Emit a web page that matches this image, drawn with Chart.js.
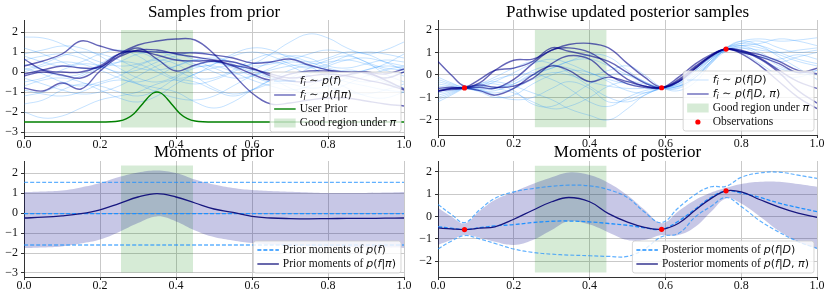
<!DOCTYPE html>
<html>
<head>
<meta charset="utf-8">
<script src="https://cdn.jsdelivr.net/npm/chart.js@4.4.0/dist/chart.umd.min.js"></script>
<style>
  body { margin: 0; background: #fff; }
  #fig { position: relative; width: 830px; height: 297px; }
  canvas { position: absolute; }
</style>
</head>
<body>
<div id="fig">
  <canvas id="priorSamples" width="415" height="150" style="left:0;top:0"></canvas>
  <canvas id="postSamples" width="415" height="150" style="left:415px;top:0"></canvas>
  <canvas id="priorMoments" width="415" height="152" style="left:0;top:145px"></canvas>
  <canvas id="postMoments" width="415" height="152" style="left:415px;top:145px"></canvas>
</div>
<script>
// ---- data ----
const xTicks = [0, 0.2, 0.4, 0.6, 0.8, 1.0];
const priorYTicks = [-3, -2, -1, 0, 1, 2];
const postYTicks = [-2, -1, 0, 1, 2];

const gridX = [0, 0.05, 0.1, 0.15, 0.2, 0.25, 0.3, 0.35, 0.4, 0.45, 0.5, 0.55, 0.6, 0.65, 0.7, 0.75, 0.8, 0.85, 0.9, 0.95, 1.0];
const postX = [0, 0.035, 0.07, 0.11, 0.15, 0.2, 0.25, 0.3, 0.345, 0.4, 0.45, 0.5, 0.545, 0.59, 0.635, 0.68, 0.72, 0.76, 0.8, 0.85, 0.9, 0.95, 1.0];

const goodRegionX = [0.255, 0.445];
const priorSamplesRegionY = [-2.77, 2.1];
const postSamplesRegionY = [-2.33, 2.0];
const priorMomentsRegionY = [-2.97, 2.38];
const postMomentsRegionY = [-2.5, 2.27];

// samples from the prior p(f)
const priorLight = [
  [1.75, 1.7, 1.4, 0.9, 0.5, 0.3, 0.4, 0.7, 0.9, 0.6, 0.2, -0.1, 0.1, 0.5, 0.8, 0.7, 0.3, 0.2, 0.4, 0.6, 0.5],
  [-2.0, -2.3, -2.2, -1.8, -1.4, -1.2, -1.0, -0.6, -0.4, -0.5, -0.9, -1.2, -0.9, -0.4, 0.1, 0.3, 0.1, -0.3, -0.5, -0.3, 0.0],
  [0.9, 1.1, 1.3, 1.2, 0.8, 0.2, -0.3, -0.5, -0.2, 0.3, 0.5, 0.3, 0.4, 0.9, 1.5, 1.9, 1.7, 1.2, 0.9, 1.1, 1.5],
  [0.2, -0.1, -0.5, -0.7, -0.5, -0.2, 0.3, 0.6, 0.4, -0.2, -0.8, -1.1, -0.9, -0.6, -0.6, -0.8, -0.7, -0.3, 0.1, 0.3, 0.2],
  [-0.5, -0.3, 0.1, 0.4, 0.3, -0.1, -0.6, -1.0, -1.3, -1.4, -1.2, -0.7, -0.2, 0.1, 0.3, 0.4, 0.5, 0.6, 0.4, 0.1, -0.2],
  [0.6, 0.8, 0.9, 0.7, 0.3, 0.0, 0.1, 0.5, 0.8, 1.0, 0.8, 0.4, 0.0, -0.3, -0.4, -0.1, 0.3, 0.6, 0.7, 0.5, 0.3],
  [-1.2, -1.0, -0.6, -0.2, 0.2, 0.5, 0.4, 0.0, -0.4, -0.6, -0.4, 0.0, 0.4, 0.5, 0.3, -0.2, -0.7, -1.0, -1.1, -0.9, -0.6],
  [0.0, 0.3, 0.5, 0.4, 0.1, -0.3, -0.6, -0.8, -1.0, -1.5, -1.8, -1.5, -0.9, -0.4, -0.1, 0.0, -0.2, -0.5, -0.7, -0.9, -1.0],
  [1.2, 0.9, 0.5, 0.2, 0.2, 0.5, 0.9, 1.0, 0.7, 0.3, 0.4, 0.8, 1.0, 0.8, 0.4, 0.2, 0.4, 0.8, 1.0, 0.9, 0.7],
  [-0.9, -1.1, -1.2, -1.0, -0.6, -0.4, -0.5, -0.2, 0.3, 0.6, 0.5, 0.2, -0.2, -0.5, -0.3, 0.2, 0.6, 0.8, 0.5, -0.1, -0.5],
  [0.4, 0.1, -0.2, -0.1, 0.4, 0.9, 1.0, 0.6, 0.1, -0.3, -0.3, 0.1, 0.6, 0.9, 0.8, 0.5, 0.2, 0.0, 0.1, 0.4, 0.9],
  [-1.6, -1.4, -0.9, -0.6, -0.7, -1.0, -1.2, -0.9, -0.3, 0.2, 0.3, 0.0, -0.4, -0.7, -0.9, -0.7, -0.2, 0.1, -0.1, -0.5, -0.8],
  [0.8, 0.5, 0.3, 0.5, 0.9, 1.1, 0.8, 0.2, -0.3, -0.1, 0.4, 0.9, 1.2, 1.1, 0.7, 0.5, 0.7, 1.0, 0.9, 0.5, 0.1],
  [-0.3, -0.6, -0.9, -1.1, -1.0, -0.7, -0.2, 0.3, 0.6, 0.4, 0.0, -0.3, -0.2, 0.2, 0.5, 0.3, -0.3, -0.8, -1.2, -1.3, -1.0],
  [0.1, 0.4, 0.8, 1.0, 0.9, 0.6, 0.2, 0.1, 0.3, 0.6, 0.7, 0.5, 0.3, 0.4, 0.6, 0.9, 1.1, 0.9, 0.5, 0.2, 0.1],
  [-0.7, -0.4, -0.3, -0.5, -0.9, -1.3, -1.5, -1.2, -0.6, -0.1, 0.2, 0.3, 0.1, -0.3, -0.8, -1.1, -1.0, -0.6, -0.2, 0.1, 0.3]
];

// samples from p(f|pi)
const priorDark = [
  [0.3, 0.55, 0.9, 1.55, 1.3, 1.05, 1.05, 1.0, 0.95, 0.95, 0.85, 0.7, 0.45, 0.5, 0.65, 0.35, 0.1, 0.0, 0.0, -0.1, 0.15],
  [-0.1, 0.1, 0.3, 0.2, 0.25, 0.9, 1.35, 1.55, 1.65, 1.6, 0.9, -0.1, -1.05, -1.6, -1.55, -1.4, -1.3, -1.3, -1.45, -1.6, -1.7],
  [-0.2, 0.0, -0.15, -0.3, 0.2, 0.8, 1.2, 0.65, 0.05, 0.35, 0.55, 0.35, 0.15, -0.1, -0.3, -0.2, -0.1, -0.2, -0.4, -0.6, -0.9],
  [-0.8, -0.95, -0.55, -0.85, 0.05, 0.75, 1.1, 1.1, 0.9, 0.75, 0.6, 0.5, 0.2, -0.2, -0.45, -0.5, -0.35, -0.15, 0.0, -0.3, 0.0],
  [0.65, 0.1, 0.0, 0.0, 0.3, 0.9, 1.05, 0.85, 0.6, 0.55, 0.55, 0.3, -0.1, -0.4, -0.1, 0.05, 0.05, 0.0, -0.05, -0.4, -0.85]
];

const userPriorX = [0, 0.2, 0.25, 0.27, 0.29, 0.30, 0.31, 0.32, 0.33, 0.34, 0.35, 0.36, 0.37, 0.38, 0.39, 0.40, 0.41, 0.43, 0.45, 0.5, 1.0];
const userPriorY = [-2.5, -2.5, -2.45, -2.33, -2.07, -1.86, -1.64, -1.41, -1.2, -1.05, -1.0, -1.05, -1.2, -1.41, -1.64, -1.86, -2.07, -2.33, -2.45, -2.5, -2.5];

// posterior samples p(f|D)
const postLight = [
  [-0.3, -0.45, -0.6, -0.7, -0.8, -0.6, -0.2, 0.1, 0.0, -0.3, -0.5, -0.6, -0.6, -0.58, -0.3, 0.3, 0.8, 1.2, 1.5, 1.6, 1.5, 1.55, 1.65],
  [-1.1, -0.85, -0.6, -0.55, -0.3, 0.1, 0.5, 0.7, 0.5, 0.1, -0.2, -0.4, -0.5, -0.55, -0.4, 0.1, 0.7, 1.1, 1.3, 1.2, 0.9, 0.6, 0.4],
  [-0.2, -0.4, -0.55, -0.6, -0.6, -0.8, -1.2, -1.5, -1.4, -1.0, -0.5, -0.3, -0.4, -0.6, -0.5, -0.1, 0.5, 1.05, 1.2, 0.9, 0.4, 0.1, 0.0],
  [-0.9, -0.75, -0.6, -0.65, -0.9, -1.1, -1.0, -0.6, -0.3, -0.6, -1.2, -1.1, -0.8, -0.6, -0.4, 0.2, 0.8, 1.2, 1.3, 1.0, 0.6, 0.8, 1.0],
  [-0.4, -0.5, -0.58, -0.5, -0.2, 0.0, 0.1, 0.3, 0.6, 0.9, 0.8, 0.2, -0.3, -0.57, -0.6, -0.1, 0.6, 1.1, 1.1, 0.7, 0.3, 0.1, 0.2],
  [-1.2, -0.9, -0.6, -0.4, -0.3, -0.5, -0.8, -1.1, -1.5, -1.8, -2.0, -1.5, -0.9, -0.6, -0.45, 0.0, 0.6, 1.15, 1.4, 1.5, 1.2, 1.0, 1.1],
  [-0.5, -0.55, -0.58, -0.65, -0.6, -0.3, 0.2, 0.4, 0.3, 0.0, 0.2, 0.4, 0.0, -0.55, -0.7, -0.3, 0.5, 1.1, 1.0, 0.5, 0.0, -0.1, 0.2],
  [-0.8, -0.7, -0.58, -0.45, -0.4, -0.7, -1.3, -1.4, -1.0, -0.4, 0.0, 0.0, -0.3, -0.6, -0.55, 0.0, 0.7, 1.2, 1.4, 1.3, 1.0, 0.7, 0.5],
  [-0.6, -0.6, -0.6, -0.75, -1.0, -0.9, -0.4, 0.0, 0.2, 0.1, -0.3, -0.7, -0.8, -0.6, -0.35, 0.2, 0.75, 1.1, 1.05, 0.8, 0.7, 0.9, 0.7],
  [-0.1, -0.35, -0.55, -0.4, -0.1, 0.3, 0.6, 0.5, 0.1, -0.5, -1.0, -1.2, -0.9, -0.55, -0.3, 0.2, 0.7, 1.15, 1.3, 1.4, 1.6, 1.5, 1.3],
  [-1.0, -0.8, -0.6, -0.7, -0.7, -0.4, 0.0, -0.2, -0.6, -1.2, -1.4, -1.0, -0.7, -0.6, -0.5, -0.1, 0.55, 1.1, 1.2, 1.1, 1.0, 1.1, 1.2],
  [-0.7, -0.65, -0.58, -0.5, -0.55, -0.4, 0.0, 0.3, 0.6, 0.7, 0.4, 0.0, -0.35, -0.58, -0.5, -0.1, 0.6, 1.2, 1.5, 1.3, 0.8, 0.3, -0.2]
];

// posterior samples p(f|D, pi)
const postDark = [
  [0.6, 0.0, -0.5, -0.35, 0.2, 0.65, 0.7, 1.1, 1.35, 1.4, 1.2, 0.5, -0.1, -0.55, -0.3, 0.3, 0.85, 1.15, 1.1, 0.75, 0.2, -0.3, -0.6],
  [-0.7, -0.65, -0.58, -0.2, 0.2, 0.3, 0.6, 1.2, 1.05, 0.85, 0.6, 0.1, -0.35, -0.57, -0.2, 0.4, 0.85, 1.15, 1.0, 0.8, 0.5, 0.1, 0.3],
  [-0.7, -0.6, -0.58, -0.55, -0.6, -0.2, 0.5, 1.1, 1.2, 1.0, 0.45, -0.2, -0.5, -0.57, -0.3, 0.3, 0.8, 1.15, 1.05, 0.7, 0.1, -0.7, -1.25],
  [-0.75, -0.6, -0.58, -0.7, -0.9, -0.6, 0.0, 0.4, 0.2, -0.3, -0.1, -0.3, -0.5, -0.57, -0.25, 0.35, 0.85, 1.15, 0.95, 0.4, -0.3, -1.0, -1.5],
  [-0.6, -0.55, -0.58, -0.45, -0.55, -0.5, -0.15, 0.5, 0.85, 0.7, 0.0, -0.4, -0.55, -0.57, -0.1, 0.5, 0.9, 1.15, 1.05, 0.9, 0.6, 0.2, 0.05]
];

const obsX = [0.07, 0.59, 0.76];
const obsY = [-0.58, -0.57, 1.15];

// moments of the prior
const priorFlatMean = -0.03;
const priorFlatUpper = 1.53;
const priorFlatLower = -1.6;
const priorPiMean = [-0.25, -0.21, -0.14, -0.03, 0.16, 0.47, 0.8, 0.97, 0.8, 0.5, 0.2, 0.03, -0.17, -0.25, -0.28, -0.29, -0.28, -0.27, -0.27, -0.26, -0.25];
const priorPiUpper = [1.05, 1.08, 1.13, 1.28, 1.5, 1.8, 2.03, 2.13, 2.0, 1.67, 1.42, 1.25, 1.15, 1.1, 1.06, 1.03, 1.0, 1.0, 1.0, 1.02, 1.05];
const priorPiLower = [-1.75, -1.72, -1.67, -1.53, -1.33, -0.95, -0.5, -0.17, -0.42, -0.87, -1.2, -1.37, -1.5, -1.58, -1.63, -1.66, -1.68, -1.7, -1.72, -1.73, -1.75];

// moments of the posterior
const postDMean = [-0.46, -0.52, -0.58, -0.5, -0.42, -0.36, -0.27, -0.21, -0.2, -0.24, -0.31, -0.39, -0.5, -0.57, -0.2, 0.35, 0.85, 1.15, 1.05, 0.85, 0.6, 0.4, 0.22];
const postDUpper = [0.54, 0.1, -0.27, 0.3, 0.81, 1.1, 1.25, 1.35, 1.4, 1.37, 1.2, 0.85, 0.2, -0.27, 0.4, 1.0, 1.33, 1.35, 1.75, 1.95, 1.98, 1.85, 1.7];
const postDLower = [-1.45, -1.1, -0.85, -1.0, -1.2, -1.45, -1.6, -1.68, -1.72, -1.75, -1.78, -1.78, -1.45, -0.9, -0.75, 0.0, 0.45, 0.85, 0.45, -0.2, -0.7, -1.12, -1.42];
const postPiMean = [-0.51, -0.55, -0.58, -0.52, -0.46, -0.12, 0.28, 0.66, 0.85, 0.66, 0.13, -0.25, -0.48, -0.57, -0.3, 0.3, 0.8, 1.15, 1.1, 0.75, 0.42, 0.15, -0.04];
const postPiUpper = [0.39, 0.0, -0.31, 0.25, 0.74, 1.1, 1.45, 1.75, 1.97, 1.85, 1.5, 0.95, 0.3, -0.3, 0.25, 0.75, 1.06, 1.28, 1.45, 1.55, 1.55, 1.45, 1.33];
const postPiLower = [-1.27, -1.05, -0.83, -0.95, -1.13, -1.27, -1.05, -0.6, -0.21, -0.36, -0.71, -1.05, -1.05, -0.83, -0.83, -0.45, 0.2, 0.81, 0.58, -0.01, -0.65, -1.13, -1.45];

// ---- styles ----
const LIGHT = "rgba(30,144,255,0.33)";
const DARK = "rgba(0,0,139,0.6)";
const GREEN = "rgb(0,128,0)";
const REGION = "rgba(0,128,0,0.16)";
const BAND = "rgba(0,0,139,0.22)";
const MEAN = "#16167f";
const DODGER = "rgb(30,144,255)";
const DODGER_SOFT = "rgba(30,144,255,0.7)";
const NONE = "rgba(0,0,0,0)";

const FONTS = {
    r: '11.5px "Liberation Serif"',
    m: 'italic 11px "DejaVu Sans"',
    u: '11px "DejaVu Sans"',
    s: 'italic 8px "DejaVu Sans"'
};

function pts(xs, ys) {
    return xs.map((x, i) => ({ x: x, y: ys[i] }));
}

function lineSet(xs, ys, color, width, order, extra) {
    return Object.assign({
        data: pts(xs, ys), borderColor: color, borderWidth: width,
        pointRadius: 0, fill: false, order: order
    }, extra || {});
}

function regionSet(yRange) {
    return {
        data: pts(goodRegionX, [yRange[1], yRange[1]]),
        borderColor: NONE, borderWidth: 0, backgroundColor: REGION,
        fill: { value: yRange[0] }, tension: 0, pointRadius: 0, order: 30
    };
}

function obsSet() {
    return {
        data: pts(obsX, obsY), showLine: false, pointRadius: 2.6,
        pointBackgroundColor: "red", pointBorderColor: "red", pointBorderWidth: 0, order: 0
    };
}

// legend labels as [text, style] pieces
const fi = [["f", "m"], ["i", "s"], [" \u223C ", "u"], ["p", "m"], ["(", "u"], ["f", "m"]];
const legends = {
    priorSamples: [
        { kind: "line", color: LIGHT, width: 0.8, label: fi.concat([[")", "u"]]) },
        { kind: "line", color: DARK, width: 1.4, label: fi.concat([["|", "u"], ["\u03C0", "m"], [")", "u"]]) },
        { kind: "line", color: GREEN, width: 1.4, label: [["User Prior", "r"]] },
        { kind: "patch", color: REGION, label: [["Good region under ", "r"], ["\u03C0", "m"]] }
    ],
    postSamples: [
        { kind: "line", color: LIGHT, width: 0.8, label: fi.concat([["|", "u"], ["D", "m"], [")", "u"]]) },
        { kind: "line", color: DARK, width: 1.4, label: fi.concat([["|", "u"], ["D", "m"], [", ", "u"], ["\u03C0", "m"], [")", "u"]]) },
        { kind: "patch", color: REGION, label: [["Good region under ", "r"], ["\u03C0", "m"]] },
        { kind: "dot", color: "red", label: [["Observations", "r"]] }
    ],
    priorMoments: [
        { kind: "line", color: DODGER, width: 1.3, dash: [4, 2], label: [["Prior moments of ", "r"], ["p", "m"], ["(", "u"], ["f", "m"], [")", "u"]] },
        { kind: "line", color: MEAN, width: 1.3, label: [["Prior moments of ", "r"], ["p", "m"], ["(", "u"], ["f", "m"], ["|", "u"], ["\u03C0", "m"], [")", "u"]] }
    ],
    postMoments: [
        { kind: "line", color: DODGER, width: 1.3, dash: [4, 2], label: [["Posterior moments of ", "r"], ["p", "m"], ["(", "u"], ["f", "m"], ["|", "u"], ["D", "m"], [")", "u"]] },
        { kind: "line", color: MEAN, width: 1.3, label: [["Posterior moments of ", "r"], ["p", "m"], ["(", "u"], ["f", "m"], ["|", "u"], ["D", "m"], [", ", "u"], ["\u03C0", "m"], [")", "u"]] }
    ]
};

const titles = {
    priorSamples: ["Samples from prior", 12.5],
    postSamples: ["Pathwise updated posterior samples", 12.5],
    priorMoments: ["Moments of prior", 7.5],
    postMoments: ["Moments of posterior", 7.5]
};

function richWidth(ctx, segs) {
    let w = 0;
    segs.forEach(s => { ctx.font = FONTS[s[1]]; w += ctx.measureText(s[0]).width; });
    return w;
}

function drawRich(ctx, segs, x, y) {
    segs.forEach(s => {
        ctx.font = FONTS[s[1]];
        ctx.fillText(s[0], x, s[1] === "s" ? y + 2.5 : y);
        x += ctx.measureText(s[0]).width;
    });
}

const figTitle = {
    id: "figTitle",
    afterDraw(chart) {
        const t = titles[chart.canvas.id];
        const a = chart.chartArea;
        const ctx = chart.ctx;
        ctx.save();
        ctx.font = '17px "Liberation Serif"';
        ctx.fillStyle = "#000";
        ctx.textAlign = "center";
        ctx.textBaseline = "middle";
        ctx.fillText(t[0], (a.left + a.right) / 2, t[1]);
        ctx.restore();
    }
};

const figLegend = {
    id: "figLegend",
    afterDraw(chart) {
        const items = legends[chart.canvas.id];
        const a = chart.chartArea;
        const ctx = chart.ctx;
        ctx.save();
        let tw = 0;
        items.forEach(it => { tw = Math.max(tw, richWidth(ctx, it.label)); });
        const h = items.length * 14 + 4;
        const w = 29.5 + tw + 5;
        const x0 = a.right - 3 - w, y0 = a.bottom - 4 - h, r = 2.5;

        ctx.beginPath();
        ctx.moveTo(x0 + r, y0);
        ctx.arcTo(x0 + w, y0, x0 + w, y0 + h, r);
        ctx.arcTo(x0 + w, y0 + h, x0, y0 + h, r);
        ctx.arcTo(x0, y0 + h, x0, y0, r);
        ctx.arcTo(x0, y0, x0 + w, y0, r);
        ctx.closePath();
        ctx.fillStyle = "rgba(255,255,255,0.8)";
        ctx.fill();
        ctx.strokeStyle = "rgba(204,204,204,0.8)";
        ctx.lineWidth = 1;
        ctx.stroke();

        const first = y0 + (h - (items.length - 1) * 14) / 2;
        items.forEach((it, i) => {
            const cy = first + i * 14;
            const hx = x0 + 4;
            if (it.kind === "line") {
                ctx.beginPath();
                ctx.setLineDash(it.dash || []);
                ctx.strokeStyle = it.color;
                ctx.lineWidth = it.width;
                ctx.moveTo(hx, cy);
                ctx.lineTo(hx + 21.5, cy);
                ctx.stroke();
                ctx.setLineDash([]);
            } else if (it.kind === "patch") {
                ctx.fillStyle = it.color;
                ctx.fillRect(hx, cy - 4.5, 21.5, 9);
            } else {
                ctx.beginPath();
                ctx.fillStyle = it.color;
                ctx.arc(hx + 10.75, cy, 2.6, 0, Math.PI * 2);
                ctx.fill();
            }
            ctx.fillStyle = "#111";
            ctx.textBaseline = "middle";
            drawRich(ctx, it.label, hx + 25.5, cy);
        });
        ctx.restore();
    }
};

function fmtY(v) {
    return v < 0 ? "\u2212" + Math.abs(v) : String(v);
}

function xAxis(height) {
    return {
        type: "linear", min: 0, max: 1,
        afterBuildTicks: ax => { ax.ticks = xTicks.map(v => ({ value: v })); },
        afterFit: ax => { ax.height = height; },
        ticks: { autoSkip: false, maxRotation: 0, padding: -1, color: "#111",
                 font: { family: "Liberation Serif", size: 12 }, callback: v => v.toFixed(1) },
        grid: { color: "#c9c9c9", lineWidth: 1, tickColor: "#333", tickLength: 3 },
        border: { color: "#333", width: 1 }
    };
}

function yAxis(width, min, max, tickVals) {
    return {
        type: "linear", min: min, max: max,
        afterBuildTicks: ax => { ax.ticks = tickVals.map(v => ({ value: v })); },
        afterFit: ax => { ax.width = width; },
        ticks: { autoSkip: false, padding: 3, color: "#111",
                 font: { family: "Liberation Serif", size: 12 }, callback: fmtY },
        grid: { color: "#c9c9c9", lineWidth: 1, tickColor: "#333", tickLength: 3 },
        border: { color: "#333", width: 1 }
    };
}

function makeChart(id, datasets, area, yMin, yMax, yTicks) {
    const canvas = document.getElementById(id);
    const W = canvas.width, H = canvas.height;
    return new Chart(canvas, {
        type: "line",
        data: { datasets: datasets },
        options: {
            responsive: false,
            animation: false,
            events: [],
            layout: { padding: { left: 0, top: area.top, right: W - area.right, bottom: 0 } },
            elements: { line: { tension: 0.4 }, point: { radius: 0 } },
            plugins: { legend: { display: false }, tooltip: { enabled: false } },
            scales: { x: xAxis(H - area.bottom), y: yAxis(area.left, yMin, yMax, yTicks) }
        },
        plugins: [figTitle, figLegend]
    });
}

// ---- Samples from prior ----
const tl = [regionSet(priorSamplesRegionY)];
priorLight.forEach(ys => tl.push(lineSet(gridX, ys, LIGHT, 0.8, 20)));
priorDark.forEach(ys => tl.push(lineSet(gridX, ys, DARK, 1.4, 10)));
tl.push(lineSet(userPriorX, userPriorY, GREEN, 1.4, 5, { cubicInterpolationMode: "monotone" }));
makeChart("priorSamples", tl, { left: 24, top: 20, right: 404, bottom: 136 }, -3.2, 2.6, priorYTicks);

// ---- Pathwise updated posterior samples ----
const tr = [regionSet(postSamplesRegionY)];
postLight.forEach(ys => tr.push(lineSet(postX, ys, LIGHT, 0.8, 20)));
postDark.forEach(ys => tr.push(lineSet(postX, ys, DARK, 1.4, 10)));
tr.push(obsSet());
makeChart("postSamples", tr, { left: 23, top: 20, right: 402, bottom: 135 }, -2.67, 2.44, postYTicks);

// ---- Moments of prior ----
const bl = [
    regionSet(priorMomentsRegionY),
    lineSet(gridX, priorPiUpper, NONE, 0, 25, { fill: "+1", backgroundColor: BAND }),
    lineSet(gridX, priorPiLower, NONE, 0, 25),
    lineSet([0, 1], [priorFlatUpper, priorFlatUpper], DODGER_SOFT, 1.3, 8, { borderDash: [4, 2] }),
    lineSet([0, 1], [priorFlatLower, priorFlatLower], DODGER_SOFT, 1.3, 8, { borderDash: [4, 2] }),
    lineSet([0, 1], [priorFlatMean, priorFlatMean], DODGER, 1.3, 7, { borderDash: [4, 2] }),
    lineSet(gridX, priorPiMean, MEAN, 1.3, 5)
];
makeChart("priorMoments", bl, { left: 24, top: 16, right: 404, bottom: 132 }, -3.2, 2.6, priorYTicks);

// ---- Moments of posterior ----
const br = [
    regionSet(postMomentsRegionY),
    lineSet(postX, postPiUpper, NONE, 0, 25, { fill: "+1", backgroundColor: BAND }),
    lineSet(postX, postPiLower, NONE, 0, 25),
    lineSet(postX, postDUpper, DODGER_SOFT, 1.2, 8, { borderDash: [4, 2] }),
    lineSet(postX, postDLower, DODGER_SOFT, 1.2, 8, { borderDash: [4, 2] }),
    lineSet(postX, postDMean, DODGER, 1.3, 7, { borderDash: [4, 2] }),
    lineSet(postX, postPiMean, MEAN, 1.3, 5),
    obsSet()
];
makeChart("postMoments", br, { left: 23, top: 16, right: 402, bottom: 132 }, -2.7, 2.48, postYTicks);
</script>
</body>
</html>
